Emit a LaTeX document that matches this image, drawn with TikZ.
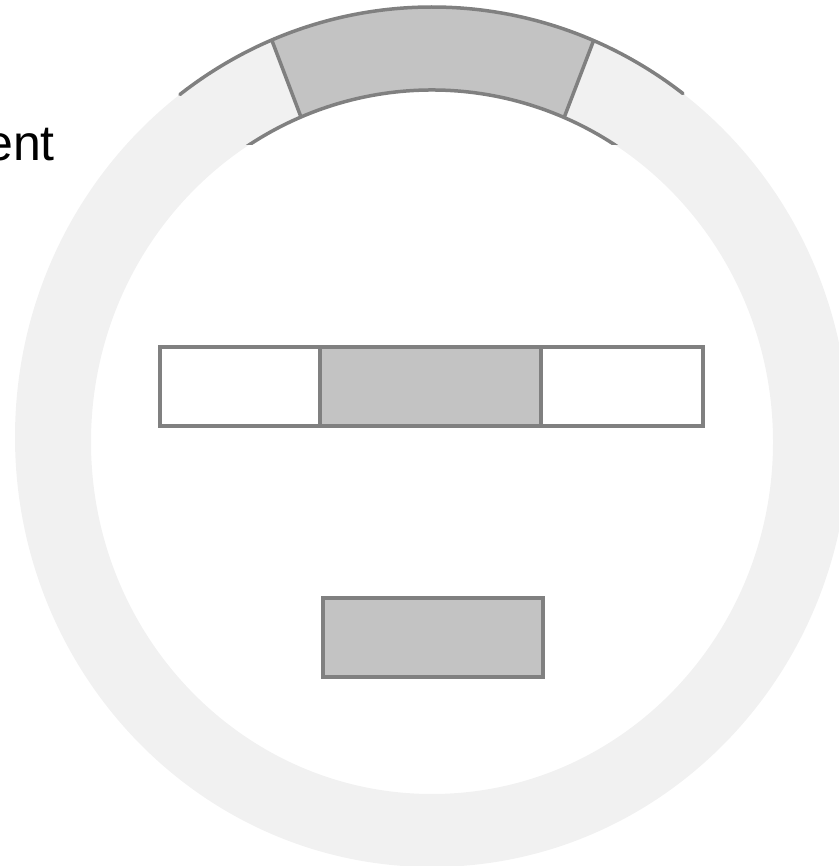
\documentclass[tikz,border=0pt]{standalone}
\usepackage{fontspec}
\setmainfont{Liberation Sans}
\usetikzlibrary{calc}
\definecolor{ringlight}{HTML}{F1F1F1}
\definecolor{segfill}{HTML}{C3C3C3}
\definecolor{edgecol}{HTML}{808080}
\tikzset{
  edgeline/.style={draw=edgecol, line width=3.5pt, line cap=round},
  boxwhite/.style={draw=edgecol, line width=3.2pt, fill=white, minimum height=79pt, inner sep=0pt, outer sep=0pt},
  boxgray/.style={boxwhite, fill=segfill},
}
\begin{document}
\begin{tikzpicture}[x=1pt,y=1pt]
\useasboundingbox (0,0) rectangle (838,866);
\coordinate (CO) at (432,429);   % centre of outer ellipse
\coordinate (CI) at (432,424);   % centre of inner ellipse
% light ring
\fill[ringlight, even odd rule] (CO) ellipse[x radius=417pt, y radius=430pt]
  (CI) ellipse[x radius=341pt, y radius=352pt];
% gray segment
\fill[segfill] ($(CO)+({417*cos(67.2)},{430*sin(67.2)})$)
  arc[start angle=67.2, end angle=112.6, x radius=417pt, y radius=430pt]
  -- ($(CI)+({341*cos(112.6)},{352*sin(112.6)})$)
  arc[start angle=112.6, end angle=67.2, x radius=341pt, y radius=352pt] -- cycle;
% outer dark arc
\draw[edgeline] ($(CO)+({417*cos(53)},{430*sin(53)})$)
  arc[start angle=53, end angle=127.2, x radius=417pt, y radius=430pt];
% inner dark arc, cut at a horizontal line
\begin{scope}
  \clip (0,721) rectangle (838,866);
  \draw[edgeline] ($(CI)+({341*cos(40)},{352*sin(40)})$)
    arc[start angle=40, end angle=140, x radius=341pt, y radius=352pt];
\end{scope}
% radial dividers
\draw[edgeline, line cap=butt] ($(CI)+({341*cos(67.2)},{352*sin(67.2)})$) -- ($(CO)+({417*cos(67.2)},{430*sin(67.2)})$);
\draw[edgeline, line cap=butt] ($(CI)+({341*cos(112.6)},{352*sin(112.6)})$) -- ($(CO)+({417*cos(112.6)},{430*sin(112.6)})$);
% label
\node[anchor=base east, inner sep=0pt, font=\fontsize{50}{60}\selectfont] (lbl) at (55,705) {ent};
% boxes
\node[boxwhite, minimum width=160pt] (bl) at (240,479.5) {};
\node[boxgray, minimum width=221pt] (bm) at (430.5,479.5) {};
\node[boxwhite, minimum width=162pt] (br) at (622,479.5) {};
\node[boxgray, minimum width=220pt] (bb) at (433,228.5) {};
\end{tikzpicture}
\end{document}
